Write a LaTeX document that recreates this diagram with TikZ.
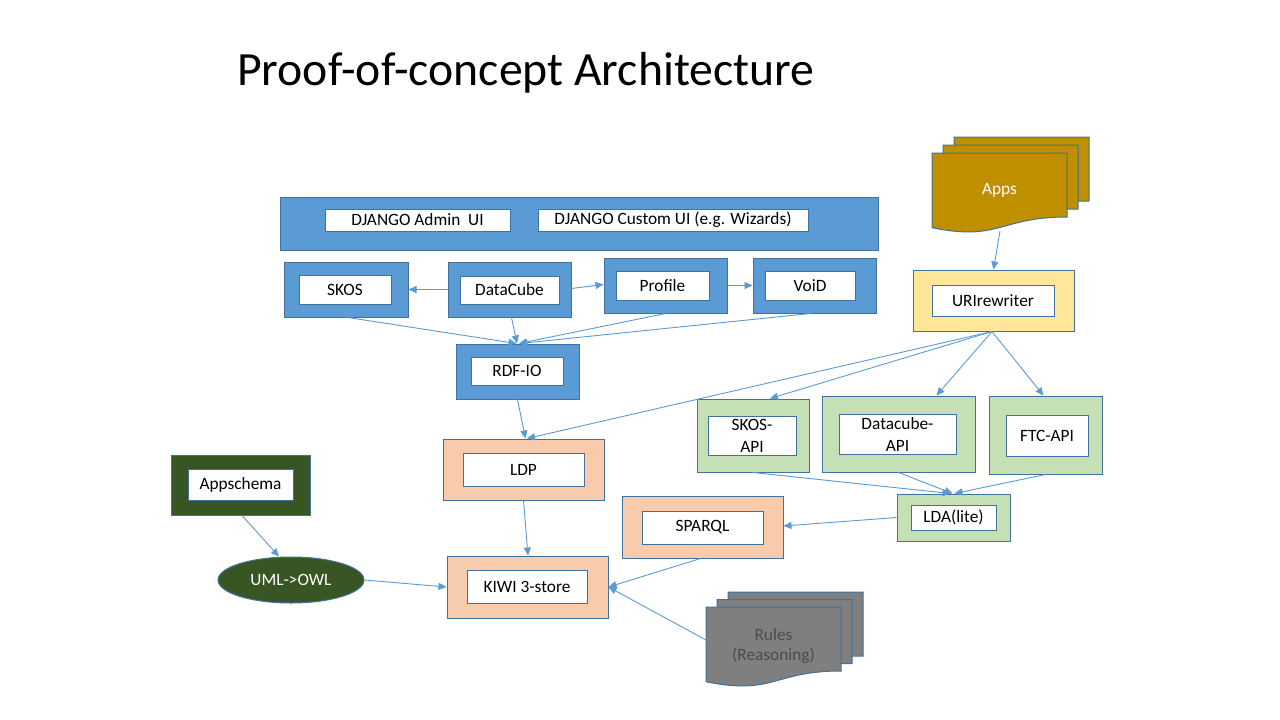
\documentclass[tikz,border=0pt]{standalone}
\usepackage{fontspec}
\setmainfont{Carlito}
\usetikzlibrary{arrows.meta,shapes.geometric,calc}
\definecolor{bfill}{HTML}{5B9BD5}
\definecolor{bord}{HTML}{41719C}
\definecolor{arr}{HTML}{5B9BD5}
\definecolor{ofill}{HTML}{F8CBAD}
\definecolor{gfill}{HTML}{C5E0B4}
\definecolor{yfill}{HTML}{FFE699}
\definecolor{dgreen}{HTML}{375623}
\definecolor{gold}{HTML}{BF8F00}
\definecolor{gray7}{HTML}{7F7F7F}
\begin{document}
\begin{tikzpicture}[x=1pt,y=-1pt,
  outer/.style={draw=bord,line width=1pt,minimum width=#1,inner sep=0pt,anchor=center},
  inbox/.style={draw=bord,fill=white,line width=1pt,inner sep=0pt,anchor=center,align=center,font=\fontsize{17.3}{22}\selectfont},
  conn/.style={draw=arr,line width=0.9pt,-{Triangle[length=8pt,width=7pt]}},
  docpic/.pic={\path[pic actions] (0,0) -- (135,0) -- (135,64) .. controls (67.5,64) and (67.5,88.6) .. (0,74.7) -- cycle;}
]
\useasboundingbox (0,0) rectangle (1280,720);
\fill[white] (0,0) rectangle (1280,720);
% title
\node[anchor=base west,inner sep=0pt,font=\fontsize{47.7}{52}\selectfont] (title) at (237,85) {Proof-of-concept Architecture};
% Django
\node[outer=598,minimum height=53,fill=bfill] (django) at (579,223.5) {};
\node[inbox,minimum width=185,minimum height=22] (djadmin) at (417.5,220) {DJANGO Admin~ UI};
\node[inbox,minimum width=270,minimum height=22] (djcustom) at (673,220) {DJANGO Custom UI (e.g. Wizards)};
% blue row
\node[outer=124,minimum height=55,fill=bfill] (skos) at (346,289.5) {};
\node[inbox,minimum width=92,minimum height=29] (skosin) at (345,289.5) {SKOS};
\node[outer=123,minimum height=55,fill=bfill] (datacube) at (509.5,289.5) {};
\node[inbox,minimum width=99,minimum height=28] (datacubein) at (509.5,290) {DataCube};
\node[outer=123,minimum height=55,fill=bfill] (profile) at (665.5,285.5) {};
\node[inbox,minimum width=93,minimum height=29] (profilein) at (662.5,285.5) {Profile};
\node[outer=123,minimum height=55,fill=bfill] (void) at (814.5,285.5) {};
\node[inbox,minimum width=90,minimum height=29] (voidin) at (810,285.5) {VoiD};
\node[outer=123,minimum height=55,fill=bfill] (rdfio) at (517.5,371.5) {};
\node[inbox,minimum width=92,minimum height=28] (rdfioin) at (517,371) {RDF-IO};
% orange
\node[outer=161,minimum height=61,fill=ofill] (ldp) at (523.5,469.5) {};
\node[inbox,minimum width=121,minimum height=33] (ldpin) at (523.5,469.5) {LDP};
\node[outer=161,minimum height=62,fill=ofill] (kiwi) at (527.5,587) {};
\node[inbox,minimum width=120,minimum height=33] (kiwiin) at (527,586.5) {KIWI 3-store};
\node[outer=161,minimum height=62,fill=ofill] (sparql) at (702.5,527) {};
\node[inbox,minimum width=121,minimum height=33] (sparqlin) at (702.5,527.5) {SPARQL};
% appschema
\node[outer=139,minimum height=60,fill=dgreen] (appschema) at (240.5,485) {};
\node[inbox,minimum width=105,minimum height=31] (appschemain) at (240.5,484.5) {Appschema};
\node[ellipse,draw=bord,line width=1pt,fill=dgreen,minimum width=146,minimum height=46,inner sep=0pt,text=white,font=\fontsize{17.3}{18}\selectfont] (uml) at (291,580) {UML->OWL};
% yellow
\node[outer=161,minimum height=61,fill=yfill] (uri) at (993.5,300.5) {};
\node[inbox,minimum width=122,minimum height=31] (uriin) at (993,300.5) {URIrewriter};
% green
\node[outer=112,minimum height=73,fill=gfill] (skosapi) at (753,435.5) {};
\node[inbox,minimum width=88,minimum height=39] (skosapiin) at (752,435.5) {SKOS-\\API};
\node[outer=153,minimum height=76,fill=gfill] (dcapi) at (898.5,434) {};
\node[inbox,minimum width=117,minimum height=40] (dcapiin) at (897.5,434) {Datacube-\\API};
\node[outer=113,minimum height=78,fill=gfill] (ftcapi) at (1045.5,435) {};
\node[inbox,minimum width=82,minimum height=41] (ftcapiin) at (1047,435.5) {FTC-API};
\node[outer=113,minimum height=47,fill=gfill] (lda) at (953.5,517.5) {};
\node[inbox,minimum width=85,minimum height=25] (ldain) at (953.5,517.5) {LDA(lite)};
% Apps documents
\pic[fill=gold,draw=bord,line width=1pt] at (954,137) {docpic};
\pic[fill=gold,draw=bord,line width=1pt] at (943,145) {docpic};
\pic[fill=gold,draw=bord,line width=1pt] at (932,153) {docpic};
\node[text=white,font=\fontsize{17.3}{18}\selectfont] (apps) at (999.5,190) {Apps};
\coordinate (appsB) at (1000,231);
% Rules documents
\pic[fill=gray7,draw=bord,line width=1pt] at (728,592) {docpic};
\pic[fill=gray7,draw=bord,line width=1pt] at (717,599.5) {docpic};
\pic[fill=gray7,draw=bord,line width=1pt] at (706,607) {docpic};
\node[text=black!70,align=center,font=\fontsize{17.3}{20.5}\selectfont] (rules) at (773.5,646) {Rules\\(Reasoning)};
\coordinate (rulesL) at (706,640);
% connectors
\draw[conn] (datacube.west) -- (skos.east);
\draw[conn] ([yshift=1]datacube.east) -- ([yshift=1]profile.west);
\draw[conn] (profile.east) -- (void.west);
\draw[conn] ([xshift=2]skos.south) -- ([xshift=-1]rdfio.north);
\draw[conn] ([xshift=2]datacube.south) -- ([xshift=-0.5]rdfio.north);
\draw[conn] (profile.south) -- ([xshift=1.5]rdfio.north);
\draw[conn] ([xshift=-4]void.south) -- ([xshift=2]rdfio.north);
\draw[conn] (rdfio.south) -- ([xshift=2]ldp.north);
\coordinate (uriS) at ([xshift=-1.5]uri.south);
\draw[conn] (uriS) -- ([xshift=3.5]ldp.north);
\draw[conn] (uriS) -- ([xshift=17]skosapi.north);
\draw[conn] (uriS) -- ([xshift=38]dcapi.north);
\draw[conn] (uriS) -- ([xshift=-2]ftcapi.north);
\draw[conn] (ldp.south) -- ([xshift=0.5]kiwi.north);
\draw[conn] (skosapi.south) -- ([xshift=-3]lda.north);
\draw[conn] (dcapi.south) -- ([xshift=-1]lda.north);
\draw[conn] (ftcapi.south) -- ([xshift=1]lda.north);
\draw[conn] (lda.west) -- ([yshift=1]sparql.east);
\draw[conn] ([xshift=1.5]appschema.south) -- ([xshift=-12]uml.north);
\draw[conn] (uml.east) -- (kiwi.west);
\draw[conn] ([xshift=-2]sparql.south) -- (kiwi.east);
\draw[conn] (rulesL) -- (kiwi.east);
\draw[conn] (appsB) -- (uri.north);
\end{tikzpicture}
\end{document}
